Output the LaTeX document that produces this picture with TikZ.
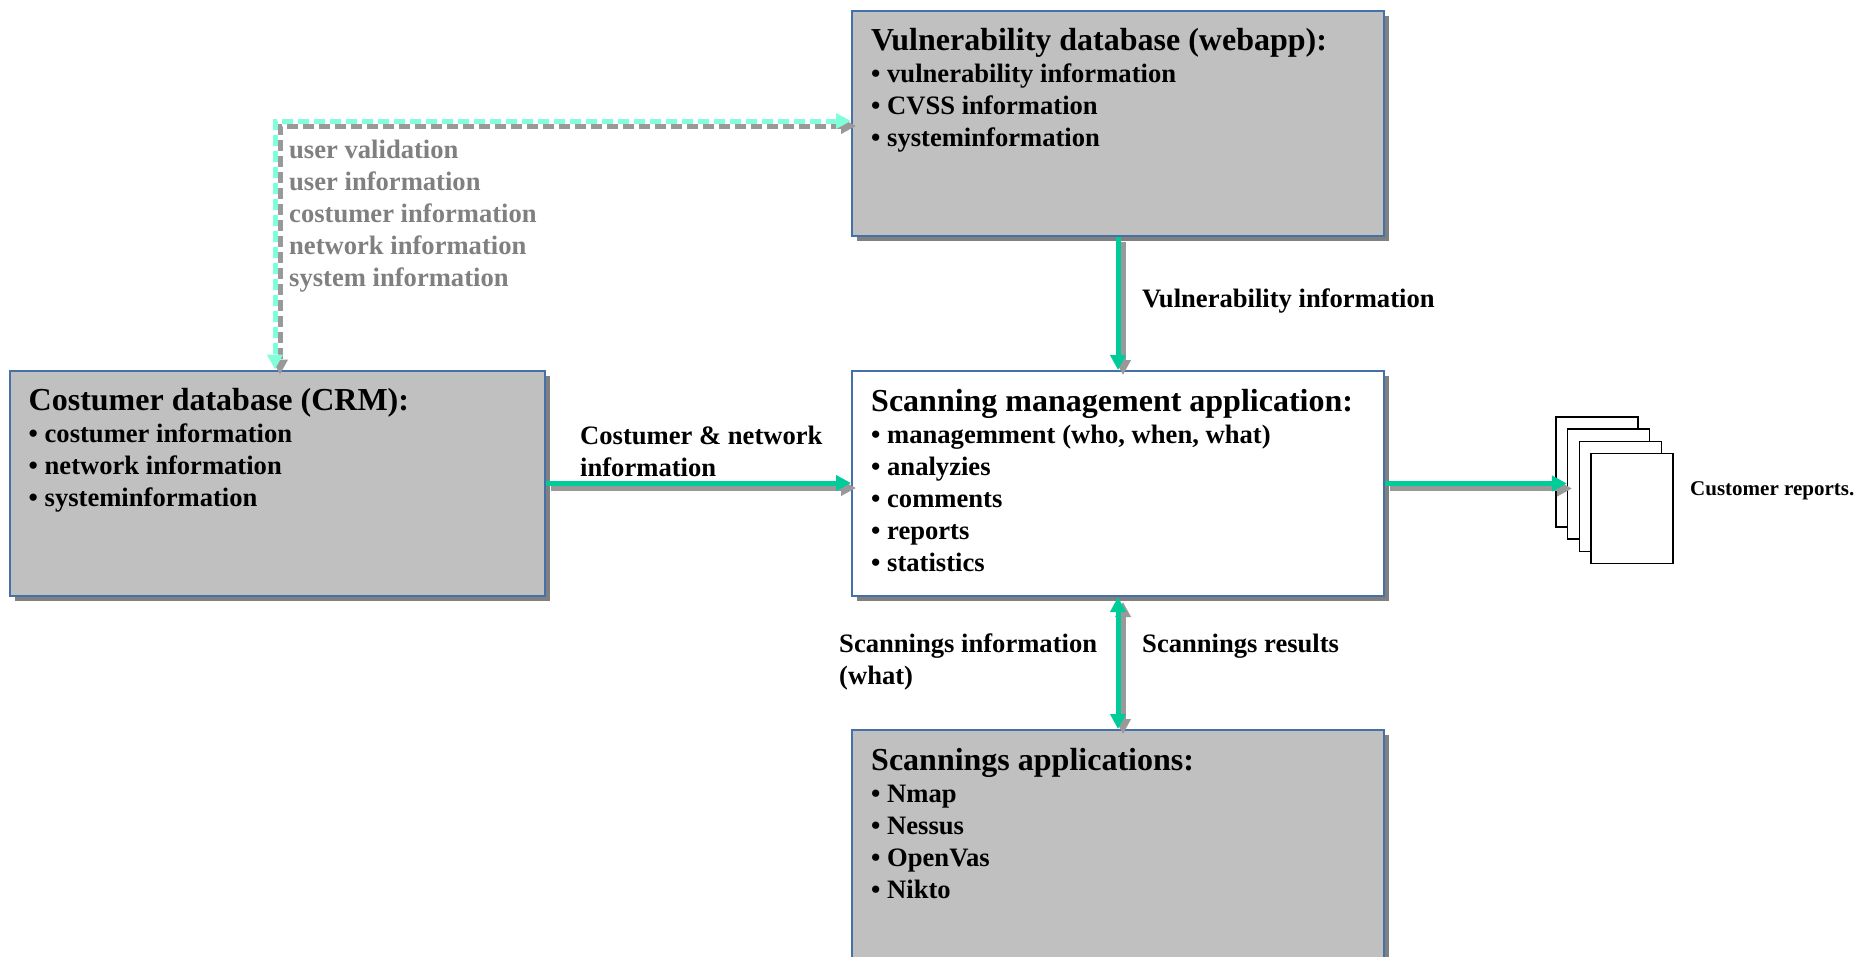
\documentclass[tikz,border=0pt]{standalone}
\usepackage{fontspec}
\setmainfont{Liberation Serif}
\usetikzlibrary{arrows.meta,shadows,positioning}

\definecolor{boxgray}{RGB}{192,192,192}
\definecolor{boxline}{RGB}{70,112,168}
\definecolor{shadowgray}{RGB}{128,128,128}
\definecolor{arrowgray}{RGB}{153,153,153}
\definecolor{flowgreen}{RGB}{0,204,153}
\definecolor{flowcyan}{RGB}{128,255,218}
\definecolor{labelgray}{RGB}{128,128,128}

\tikzset{
  dbbox/.style={draw=boxline, line width=2pt, fill=boxgray, minimum width=532pt, minimum height=225pt, inner sep=0pt,
    drop shadow={shadow xshift=5pt, shadow yshift=-5pt, fill=shadowgray, opacity=1}},
  appbox/.style={dbbox, fill=white},
  boxtext/.style={anchor=north west, inner sep=0pt, align=left, font=\bfseries\fontsize{26.6}{32}\selectfont},
  flowlabel/.style={anchor=west, inner sep=0pt, align=left, font=\bfseries\fontsize{26.6}{32}\selectfont},
  flow/.style={draw=flowgreen, line width=5pt},
  flowshadow/.style={draw=arrowgray, line width=5pt, transform canvas={xshift=5pt,yshift=-5pt}},
  dashflow/.style={flow, draw=flowcyan, dash pattern=on 11pt off 5pt},
  dashshadow/.style={flowshadow, dash pattern=on 11pt off 5pt},
  page/.style={draw=black, line width=1.5pt, fill=white, minimum width=82pt, minimum height=110pt, inner sep=0pt}
}
\newcommand{\boxtitle}[1]{{\fontsize{32}{32}\selectfont #1}}

\begin{document}
\begin{tikzpicture}[x=1pt,y=1pt,yscale=-1,xscale=1,>={Triangle[length=15pt,width=15pt]}]
\useasboundingbox (0,0) rectangle (1866,956);

%Shape: Rectangle vulnerability database
\node[dbbox] (vuln) at (1118,123) {};
%Shape: Rectangle costumer database
\node[dbbox, minimum width=535pt] (crm) at (277,483) {};
%Shape: Rectangle scanning management
\node[appbox] (scan) at (1118,483.5) {};
%Shape: Rectangle scanning applications
\node[dbbox, minimum height=232pt] (apps) at (1118,846) {};

%Shape: pages of the reports
\foreach \i in {1,...,4}
  \node[page] (page\i) at ({1597+11.7*(\i-1)},{472+12.2*(\i-1)}) {};

% Text Node
\node[boxtext] (vulntxt) at ([shift={(20,19)}]vuln.north west)
  {\boxtitle{Vulnerability database (webapp):}\\
   \textbullet\ vulnerability information\\
   \textbullet\ CVSS information\\
   \textbullet\ systeminformation};
% Text Node
\node[boxtext] (crmtxt) at ([shift={(20,19)}]crm.north west)
  {\boxtitle{Costumer database (CRM):}\\
   \textbullet\ costumer information\\
   \textbullet\ network information\\
   \textbullet\ systeminformation};
% Text Node
\node[boxtext] (scantxt) at ([shift={(20,19)}]scan.north west)
  {\boxtitle{Scanning management application:}\\
   \textbullet\ managemment (who, when, what)\\
   \textbullet\ analyzies\\
   \textbullet\ comments\\
   \textbullet\ reports\\
   \textbullet\ statistics};
% Text Node
\node[boxtext] (appstxt) at ([shift={(20,19)}]apps.north west)
  {\boxtitle{Scannings applications:}\\
   \textbullet\ Nmap\\
   \textbullet\ Nessus\\
   \textbullet\ OpenVas\\
   \textbullet\ Nikto};

%Straight Lines dashed user data (shadow first)
\coordinate (corner) at (275,121);
\draw[dashshadow,<->] (vuln.west |- corner) -- (corner) -- (corner |- crm.north);
\draw[dashflow,<->] (vuln.west |- corner) -- (corner) -- (corner |- crm.north);
%Straight Lines (shadow first)
\draw[flowshadow,->] (crm.east) -- (crm.east -| scan.west);
\draw[flow,->] (crm.east) -- (crm.east -| scan.west);
\draw[flowshadow,->] (vuln.south) -- (scan.north);
\draw[flow,->] (vuln.south) -- (scan.north);
\draw[flowshadow,<->] (scan.south) -- (apps.north);
\draw[flow,<->] (scan.south) -- (apps.north);
\draw[flowshadow,->] (scan.east) -- (scan.east -| page2.west);
\draw[flow,->] (scan.east) -- (scan.east -| page2.west);

% Text Node
\node[boxtext, text=labelgray] (userlbl) at (289,140)
  {user validation\\ user information\\ costumer information\\ network information\\ system information};
% Text Node
\node[flowlabel] (crmlbl) at (580,451.5) {Costumer \& network\\ information};
% Text Node
\node[flowlabel] (vulnlbl) at (1142,301) {Vulnerability information};
% Text Node
\node[flowlabel] (scaninfolbl) at (839,661.5) {Scannings information\\ (what)};
% Text Node
\node[flowlabel] (scanreslbl) at (1142,646) {Scannings results};
% Text Node
\node[flowlabel, font=\bfseries\fontsize{21}{25}\selectfont] (reportlbl) at (1690,491) {Customer reports.};

\end{tikzpicture}
\end{document}
